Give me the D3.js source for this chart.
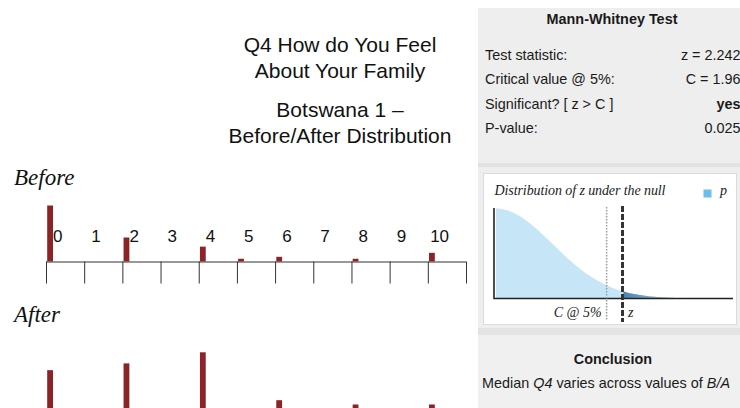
<!DOCTYPE html>
<html>
<head>
<meta charset="utf-8">
<script src="https://cdn.jsdelivr.net/npm/d3@7/dist/d3.min.js"></script>
<style>
  html, body { margin: 0; padding: 0; background: #fff; overflow: hidden; }
  svg { display: block; }
</style>
</head>
<body>
<svg id="chart" width="740" height="408"></svg>
<script>
// Response scale 0..10 and share of respondents (%) at each point
const categories = [0, 1, 2, 3, 4, 5, 6, 7, 8, 9, 10];
const beforeValues = [49, 0, 21, 0, 13, 2.4, 4.1, 0, 2.4, 0, 7.6];
const afterValues  = [20.1, 0, 22.0, 0, 25.1, 0, 11.7, 0, 10.5, 0, 10.5];

// Mann-Whitney test summary
const zStat = 2.242;
const criticalValue = 1.96;
const significant = "yes";
const pValue = 0.025;
const titleLines = ["Q4 How do You Feel", "About Your Family"];
const subtitleLines = ["Botswana 1 \u2013", "Before/After Distribution"];

const svg = d3.select("#chart");
const SANS = "'Liberation Sans', Arial, Helvetica, sans-serif";
const SERIF = "'Liberation Serif', 'Times New Roman', serif";
const BAR = "#8b2327";

// ---- Titles ----
const titleG = svg.append("g").attr("font-family", SANS).attr("font-size", 21)
  .attr("fill", "#111").attr("text-anchor", "middle");
titleLines.forEach((t, i) => titleG.append("text").attr("x", 340).attr("y", 51.5 + i * 26.8).text(t));
subtitleLines.forEach((t, i) => titleG.append("text").attr("x", 340).attr("y", 116.7 + i * 26.6).text(t));

// ---- Distribution panels ----
const x = d3.scaleBand().domain(categories).range([46, 466]).paddingInner(0).paddingOuter(0);

function panel(name, values, titleY, axisY, maxBarH, showLabels) {
  const g = svg.append("g");
  g.append("text").attr("x", 14).attr("y", titleY)
    .attr("font-family", SERIF).attr("font-style", "italic").attr("font-size", 23)
    .attr("fill", "#111").text(name);

  const y = d3.scaleLinear().domain([0, d3.max(values)]).range([0, maxBarH]);

  // baseline with ticks at every category boundary
  const axis = d3.axisBottom(d3.scaleLinear().domain([0, categories.length]).range(x.range()))
    .ticks(categories.length).tickSize(22).tickFormat("");
  const ax = g.append("g").attr("transform", `translate(0,${axisY})`).call(axis);
  ax.select(".domain").attr("stroke", "#333").attr("d", `M${x.range()[0]},0.5H${x.range()[1]}`);
  ax.selectAll(".tick line").attr("stroke", "#333");

  g.selectAll("rect.bar").data(values).join("rect").attr("class", "bar")
    .attr("x", (d, i) => x(categories[i]) + 1.2)
    .attr("width", 5.8)
    .attr("y", d => axisY - y(d))
    .attr("height", d => y(d))
    .attr("fill", BAR);

  if (showLabels) {
    g.selectAll("text.cat").data(categories).join("text").attr("class", "cat")
      .attr("x", d => x(d) + 11.8)
      .attr("y", axisY - 19.7)
      .attr("text-anchor", "middle")
      .attr("font-family", SANS).attr("font-size", 17).attr("fill", "#111")
      .text(d => d);
  }
}

panel("Before", beforeValues, 185, 261.5, 56, true);
panel("After", afterValues, 321.7, 442, 89.7, false);

// ---- Side panel ----
const side = svg.append("g");
side.append("rect").attr("x", 478).attr("y", 8).attr("width", 262).attr("height", 400).attr("fill", "#eeeeee");
side.append("rect").attr("x", 478).attr("y", 163).attr("width", 262).attr("height", 4).attr("fill", "#e2e2e2");
side.append("rect").attr("x", 478).attr("y", 328).attr("width", 262).attr("height", 7).attr("fill", "#e3e3e3");
side.append("rect").attr("x", 478).attr("y", 335).attr("width", 262).attr("height", 73).attr("fill", "#f0f0f0");

const mw = side.append("g").attr("font-family", SANS).attr("font-size", 14.4).attr("fill", "#1a1a1a");
mw.append("text").attr("x", 612).attr("y", 24).attr("text-anchor", "middle")
  .attr("font-weight", "bold").text("Mann-Whitney Test");
const rows = [
  ["Test statistic:", `z = ${zStat}`, false],
  ["Critical value @ 5%:", `C = ${criticalValue}`, false],
  ["Significant? [ z > C ]", significant, true],
  ["P-value:", `${pValue}`, false]
];
rows.forEach((r, i) => {
  const yy = 59.5 + i * 24.6;
  mw.append("text").attr("x", 485).attr("y", yy).text(r[0]);
  mw.append("text").attr("x", 740.5).attr("y", yy).attr("text-anchor", "end")
    .attr("font-weight", r[2] ? "bold" : "normal").text(r[1]);
});

// ---- Null distribution of z ----
side.append("rect").attr("x", 483.5).attr("y", 173.5).attr("width", 253).attr("height", 151)
  .attr("fill", "#fff").attr("stroke", "#dcdcdc");

const zx = d3.scaleLinear().domain([0, 4.2]).range([496, 733]);
const pdf = z => Math.exp(-z * z / 2) / Math.sqrt(2 * Math.PI);
const zy = d3.scaleLinear().domain([0, pdf(0)]).range([298.5, 208.5]);
const grid = d3.range(0, 4.2001, 0.02);
const area = d3.area().x(d => zx(d)).y0(zy(0)).y1(d => zy(pdf(d))).curve(d3.curveBasis);

const defs = svg.append("defs");
const grad = defs.append("linearGradient").attr("id", "tailGrad")
  .attr("gradientUnits", "userSpaceOnUse")
  .attr("x1", zx(zStat)).attr("x2", zx(zStat) + 60).attr("y1", 0).attr("y2", 0);
grad.append("stop").attr("offset", 0).attr("stop-color", "#4b80ae");
grad.append("stop").attr("offset", 1).attr("stop-color", "#b9dcf2");

side.append("path").datum(grid).attr("d", area).attr("fill", "#c6e6f8");
side.append("path").datum(grid.filter(d => d >= zStat)).attr("d", area).attr("fill", "url(#tailGrad)");

side.append("path").attr("d", `M${zx(0) - 2},208V298.5H733`).attr("fill", "none")
  .attr("stroke", "#222").attr("stroke-width", 1.6);

side.append("line").attr("x1", zx(criticalValue)).attr("x2", zx(criticalValue))
  .attr("y1", 207).attr("y2", 321).attr("stroke", "#9a9a9a").attr("stroke-width", 1.5)
  .attr("stroke-dasharray", "1.5,1.5");
side.append("line").attr("x1", zx(zStat)).attr("x2", zx(zStat))
  .attr("y1", 206).attr("y2", 322).attr("stroke", "#333").attr("stroke-width", 3)
  .attr("stroke-dasharray", "6,2");

const it = side.append("g").attr("font-family", SERIF).attr("font-style", "italic")
  .attr("font-size", 14).attr("fill", "#222");
it.append("text").attr("x", 494.5).attr("y", 195).attr("textLength", 171).text("Distribution of z under the null");
it.append("text").attr("x", zx(criticalValue) - 5).attr("y", 316.5).attr("text-anchor", "end").text("C @ 5%");
it.append("text").attr("x", zx(zStat) + 5.5).attr("y", 316.5).text("z");
it.append("text").attr("x", 720).attr("y", 195).text("p");
side.append("rect").attr("x", 703.5).attr("y", 189.5).attr("width", 8).attr("height", 8).attr("fill", "#6dbde9");

// ---- Conclusion ----
const conc = side.append("g").attr("font-family", SANS).attr("font-size", 14.4).attr("fill", "#1a1a1a")
  .attr("text-anchor", "middle");
conc.append("text").attr("x", 613).attr("y", 364).attr("font-weight", "bold").text("Conclusion");
const line = conc.append("text").attr("x", 606).attr("y", 387.5);
line.append("tspan").text("Median ");
line.append("tspan").attr("font-style", "italic").text("Q4");
line.append("tspan").text(" varies across values of ");
line.append("tspan").attr("font-style", "italic").text("B/A");
</script>
</body>
</html>
